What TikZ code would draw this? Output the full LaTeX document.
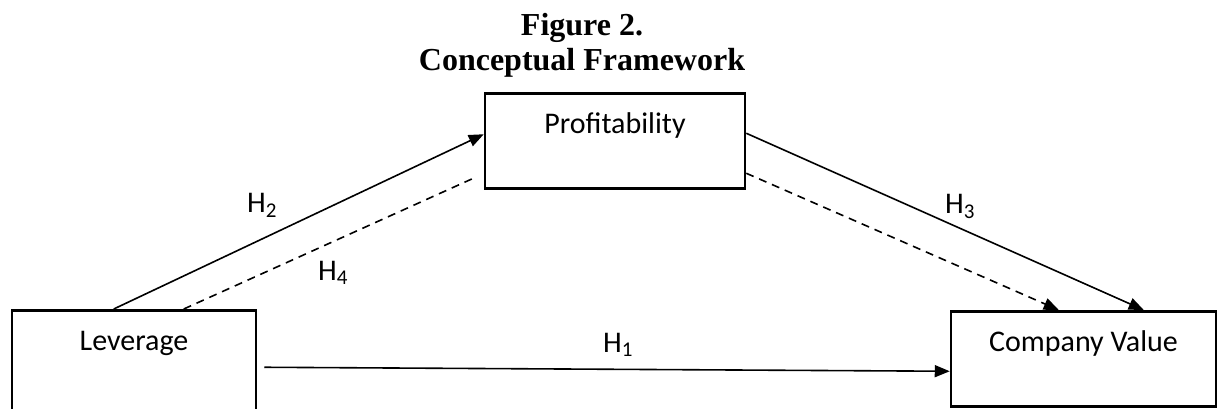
\documentclass[tikz,border=0pt]{standalone}
\usepackage{fontspec}
\setmainfont{Liberation Serif}
\newfontfamily\boxfont{Carlito}
\usetikzlibrary{calc,arrows.meta}

\begin{document}
\begin{tikzpicture}[x=1pt, y=-1pt, >={Triangle[length=15pt,width=12pt]},
	var/.style={draw, line width=2.5pt, inner sep=0pt, anchor=north, text height=40pt, text depth=55pt, font=\boxfont\fontsize{30}{36}\selectfont},
	link/.style={line width=1.6pt},
	dashlink/.style={line width=1.6pt, dash pattern=on 8pt off 6pt},
	hyp/.style={anchor=base west, inner sep=0pt, font=\boxfont\fontsize{30}{36}\selectfont},
	ttl/.style={anchor=base, inner sep=0pt, font=\bfseries\fontsize{32}{36}\selectfont}]
			\clip (0,0) rectangle (1217,408);
			\node[ttl] (fig) at (582,35) {Figure 2.};
			\node[ttl] (title) at (582,70) {Conceptual Framework};
			\node[var, minimum width=244pt, text depth=62pt] (lev) at (134,309) {Leverage};
			\node[var, minimum width=260pt] (prof) at (615,92) {Profitability};
			\node[var, minimum width=265pt] (comp) at (1083.5,310) {Company Value};
			\draw[link,->] ([xshift=103pt]lev.north west) -- ([yshift=6.5pt]prof.west);
			\draw[dashlink] ([xshift=173pt]lev.north west) -- ([xshift=-7pt,yshift=-36pt]prof.west);
			\draw[link,->] ([yshift=7.5pt]prof.east) -- ([xshift=194pt]comp.north west);
			\draw[dashlink,->] ([yshift=-32.5pt]prof.east) -- ([xshift=109pt]comp.north west);
			\draw[link,->] ([xshift=7pt,yshift=-6pt]lev.east) -- ([yshift=-12.5pt]comp.west);
			\node[hyp] (h2) at (247,212) {H\textsubscript{2}};
			\node[hyp] (h4) at (318,280) {H\textsubscript{4}};
			\node[hyp] (h3) at (945,213) {H\textsubscript{3}};
			\node[hyp] (h1) at (603,352) {H\textsubscript{1}};
		\end{tikzpicture}
\end{document}
